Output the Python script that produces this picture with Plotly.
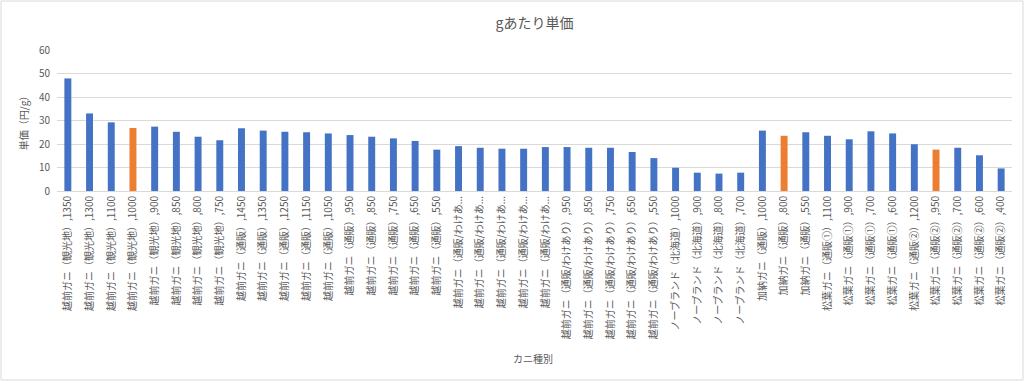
import plotly.graph_objects as go

# ---- data ----
brands = (["越前ガニ（観光地）"] * 8 + ["越前ガニ（通販）"] * 10 +
          ["越前ガニ（通販/わけあり）"] * 10 + ["ノーブランド（北海道）"] * 4 +
          ["加納ガニ（通販）"] * 3 + ["松葉ガニ（通販①）"] * 4 + ["松葉ガニ（通販②）"] * 5)
prices = [1350, 1300, 1100, 1000, 900, 850, 800, 750,
          1450, 1350, 1250, 1150, 1050, 950, 850, 750, 650, 550,
          1450, 1350, 1250, 1150, 1050, 950, 850, 750, 650, 550,
          1000, 900, 800, 700,
          1000, 800, 550,
          1100, 900, 700, 600,
          1200, 950, 700, 600, 400]
unit_price = [47.9, 33.0, 29.2, 26.8, 27.4, 25.2, 23.1, 21.6,
              26.7, 25.7, 25.2, 25.0, 24.5, 23.8, 23.1, 22.4, 21.3, 17.6,
              19.1, 18.4, 18.0, 18.0, 18.7, 18.7, 18.4, 18.4, 16.6, 14.0,
              9.9, 7.8, 7.4, 7.8,
              25.7, 23.5, 25.0,
              23.5, 22.0, 25.4, 24.5,
              19.9, 17.6, 18.4, 15.2, 9.6]
highlight = [3, 33, 40]  # orange bars (0-based index)

categories = [f"{b},{p}" for b, p in zip(brands, prices)]
# Excel truncates the longest labels
ticktext = [c if len(c) <= 17 else c[:11] + "..." for c in categories]

colors = ["#ED7D31" if i in highlight else "#4472C4" for i in range(len(categories))]

W, H = 1024, 381
ml, mr, mt, mb = 57, 12, 50, 190

fig = go.Figure(go.Bar(
    x=list(range(len(categories))), y=unit_price,
    marker=dict(color=colors, line=dict(width=0)),
    width=0.32, hovertext=categories,
))

font_family = "Noto Sans CJK JP, Noto Sans, sans-serif"
fig.update_layout(
    width=W, height=H,
    margin=dict(l=ml, r=mr, t=mt, b=mb),
    paper_bgcolor="white", plot_bgcolor="white",
    font=dict(family=font_family, color="#595959", size=10),
    showlegend=False,
    title=dict(text="gあたり単価", x=0.5, xref="paper", xanchor="center",
               y=1 - 23 / H, yanchor="middle",
               font=dict(size=14, color="#595959", family=font_family)),
    xaxis=dict(
        tickmode="array", tickvals=list(range(len(categories))), ticktext=ticktext,
        tickangle=-90, tickfont=dict(size=10, color="#595959"),
        range=[-0.5, len(categories) - 0.5],
        showline=True, linecolor="#d9d9d9", linewidth=1,
        showgrid=False, ticks="", ticklen=0, automargin=False,
    ),
    yaxis=dict(
        range=[0, 60], dtick=10, showgrid=True, gridcolor="#d9d9d9", gridwidth=1,
        zeroline=False, tickfont=dict(size=10, color="#595959"),
        ticks="", ticklabelstandoff=6, automargin=False,
        title=dict(text="単価（円/g）", font=dict(size=10, color="#595959"), standoff=8),
    ),
    annotations=[dict(
        text="カニ種別", xref="paper", yref="paper",
        x=(533 - ml) / (W - ml - mr), y=-(358 - (H - mb)) / (H - mt - mb),
        xanchor="center", yanchor="middle", showarrow=False,
        font=dict(size=10, color="#595959"),
    )],
    shapes=[dict(
        type="rect", xref="paper", yref="paper", layer="above",
        x0=-(ml - 1) / (W - ml - mr), x1=1 + (mr - 1) / (W - ml - mr),
        y0=-(mb - 1) / (H - mt - mb), y1=1 + (mt - 1) / (H - mt - mb),
        line=dict(color="#d9d9d9", width=1), fillcolor="rgba(0,0,0,0)",
    )],
)

fig.write_html("out.html", config={"displayModeBar": False},
               post_script="document.body.style.margin='0';document.body.style.overflow='hidden';")
